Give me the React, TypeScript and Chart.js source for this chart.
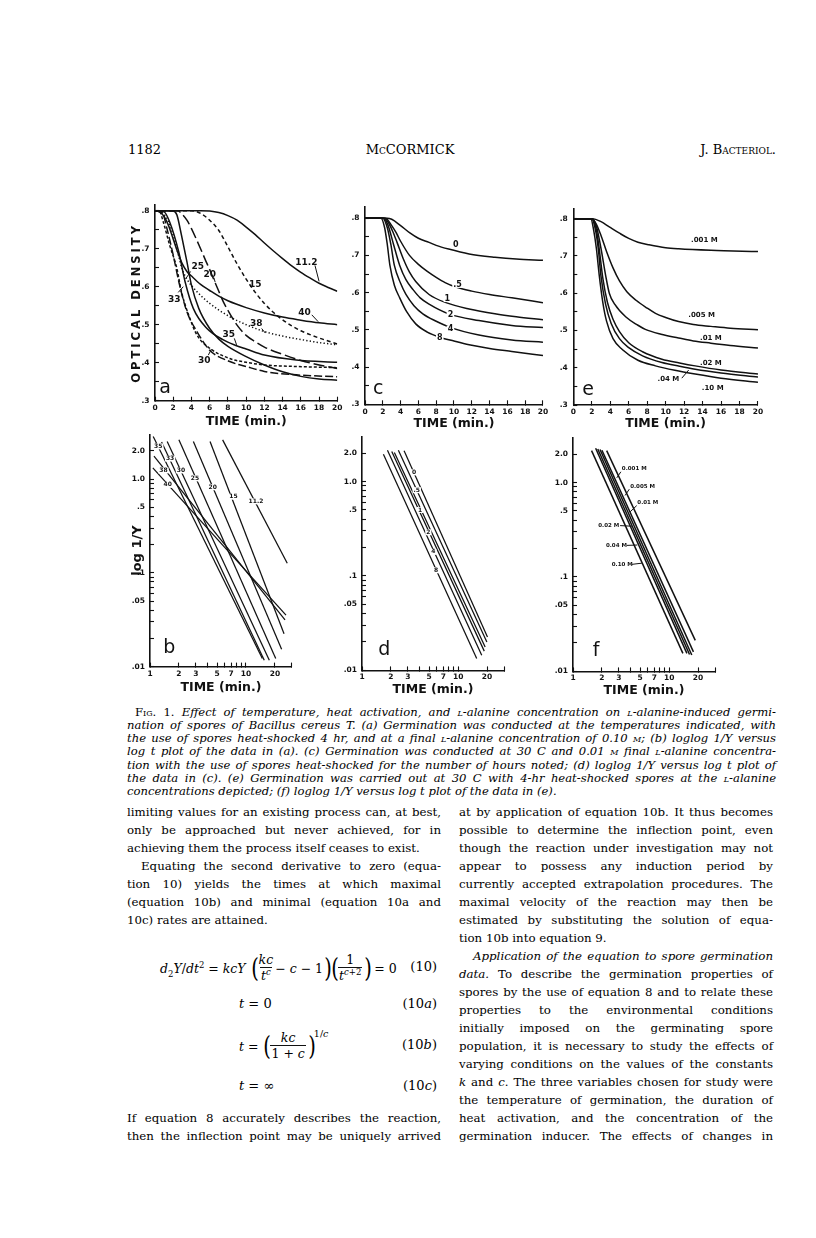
import React, { useEffect, useLayoutEffect, useRef } from 'react';
import { Chart, registerables } from 'chart.js';

Chart.register(...registerables);

type Pt = [number, number];

/* ---------------- (a) optical density vs time (min) at germination temperatures (C) ---------------- */
const temperatures = ['11.2', '15', '20', '25', '30', '33', '35', '38', '40'];
const odAt11_2: Pt[] = [[0, .8], [5, .8], [6, .799], [7, .795], [8, .787], [9, .775], [10, .757], [11, .737], [12, .715], [13, .694], [14, .674], [15, .655], [16, .638], [17, .623], [18, .609], [19, .598], [20, .588]];
const odAt15: Pt[] = [[0, .8], [4, .8], [5, .793], [6, .775], [7, .748], [8, .705], [9, .66], [10, .62], [11, .585], [12, .556], [13, .532], [14, .513], [15, .497], [16, .484], [17, .474], [18, .465], [19, .457], [20, .449]];
const odAt20: Pt[] = [[0, .8], [2.5, .8], [3, .79], [3.5, .775], [4, .753], [4.5, .727], [5, .7], [5.5, .672], [6, .645], [6.5, .616], [7, .588], [7.5, .56], [8, .538], [9, .499], [10, .472], [11, .455], [12, .441], [14, .422], [16, .406], [18, .394], [20, .385]];
const odAt25: Pt[] = [[0, .8], [2, .799], [2.4, .789], [2.9, .736], [3.5, .666], [4, .604], [4.8, .543], [6, .49], [7, .462], [8, .443], [10, .416], [12, .394], [14, .376], [16, .364], [18, .357], [20, .354]];
const odAt30: Pt[] = [[0, .8], [0.8, .795], [1.3, .754], [2, .683], [2.7, .604], [3.5, .534], [4.6, .482], [6, .433], [8.2, .403], [10, .39], [12, .377], [15.5, .368], [20, .363]];
const odAt33: Pt[] = [[0, .8], [0.5, .798], [0.9, .771], [1.6, .71], [2.4, .648], [2.9, .587], [3.7, .525], [4.6, .473], [6, .438], [8.2, .411], [10, .401], [12, .394], [15.5, .39], [20, .387]];
const odAt35: Pt[] = [[0, .8], [1, .797], [1.6, .771], [2.6, .692], [3.3, .613], [4.2, .543], [5.7, .49], [7.5, .46], [8.8, .446], [10, .436], [12, .42], [15.5, .407], [20, .401]];
const odAt38: Pt[] = [[0, .8], [1, .79], [1.5, .77], [2, .735], [2.5, .69], [3, .645], [3.5, .62], [4.6, .587], [6, .556], [8.2, .521], [10, .5], [12, .482], [14, .47], [16, .461], [18, .453], [20, .447]];
const odAt40: Pt[] = [[0, .8], [0.5, .797], [1, .785], [1.5, .76], [2, .725], [2.5, .69], [3, .66], [3.5, .64], [4, .628], [5, .606], [6, .59], [7, .575], [8, .563], [10, .545], [12, .531], [14, .52], [16, .512], [18, .505], [20, .5]];
const panelACurves: Pt[][] = [odAt11_2, odAt15, odAt20, odAt25, odAt30, odAt33, odAt35, odAt38, odAt40];

/* ---------------- (c) optical density vs time, hours of heat shock ---------------- */
const heatHours = ['0', '.5', '1', '2', '4', '8'];
const odHeat0: Pt[] = [[0, .8], [2.5, .8], [3, .797], [4, .78], [5, .761], [6, .746], [7.2, .735], [8, .727], [9.4, .717], [11.7, .704], [14.6, .695], [17, .69], [20, .687]];
const odHeat05: Pt[] = [[0, .8], [2.3, .8], [3, .78], [3.5, .761], [4, .738], [5, .7], [6, .676], [7, .657], [8, .641], [9, .627], [10.2, .615], [12, .604], [14, .595], [16.5, .586], [20, .573]];
const odHeat1: Pt[] = [[0, .8], [2.2, .8], [2.7, .785], [3.1, .765], [3.6, .735], [4.3, .691], [5, .655], [5.7, .63], [7.2, .595], [9.1, .573], [11.7, .556], [14.6, .543], [17, .535], [20, .527]];
const odHeat2: Pt[] = [[0, .8], [2.1, .8], [2.6, .78], [3.2, .73], [3.9, .673], [4.6, .635], [5.4, .608], [6.2, .586], [7.2, .569], [9.4, .543], [12.8, .525], [16.5, .512], [20, .506]];
const odHeat4: Pt[] = [[0, .8], [2, .8], [2.5, .775], [2.9, .73], [3.3, .673], [4, .625], [4.6, .595], [5.5, .565], [6.5, .543], [8, .523], [9.4, .508], [12.8, .486], [16.5, .473], [20, .467]];
const odHeat8: Pt[] = [[0, .8], [1.8, .8], [2.2, .775], [2.5, .73], [2.8, .673], [3.3, .62], [3.9, .586], [4.7, .548], [5.7, .516], [7, .494], [8.3, .481], [10, .47], [11.7, .46], [14, .45], [16.5, .442], [20, .431]];
const panelCCurves: Pt[][] = [odHeat0, odHeat05, odHeat1, odHeat2, odHeat4, odHeat8];

/* ---------------- (e) optical density vs time, L-alanine concentration ---------------- */
const concLabels = ['.001 M', '.005 M', '.01 M', '.02 M', '.04 M', '.10 M'];
const odConc001: Pt[] = [[0, .8], [2.1, .8], [3, .792], [3.9, .778], [5, .761], [6, .747], [7, .737], [8.2, .73], [10, .722], [11.4, .719], [14.9, .715], [20, .712]];
const odConc005: Pt[] = [[0, .8], [2, .8], [2.5, .785], [3, .755], [3.6, .712], [4.3, .668], [5, .633], [5.8, .604], [6.8, .581], [8, .56], [8.9, .546], [10, .535], [11.4, .524], [13, .516], [14.9, .511], [17, .506], [20, .502]];
const odConc01: Pt[] = [[0, .8], [2, .8], [2.5, .78], [3, .72], [3.5, .648], [3.9, .6], [4.5, .57], [5.7, .536], [7, .514], [7.8, .503], [9.5, .49], [11.4, .48], [13, .472], [14.9, .466], [17, .46], [20, .453]];
const odConc02: Pt[] = [[0, .8], [2, .8], [2.5, .77], [2.8, .72], [3.2, .64], [3.7, .575], [4.3, .53], [5, .497], [6, .467], [7.5, .443], [9.6, .423], [11.5, .413], [13.2, .405], [16, .394], [20, .383]];
const odConc04: Pt[] = [[0, .8], [2, .8], [2.4, .77], [2.7, .72], [3, .645], [3.5, .57], [4.1, .519], [5, .478], [6, .454], [7.5, .432], [9.6, .414], [11.5, .404], [13.2, .396], [16, .386], [20, .375]];
const odConc10: Pt[] = [[0, .8], [1.9, .8], [2.2, .77], [2.5, .72], [2.8, .65], [3.2, .575], [3.6, .525], [4.3, .478], [5.3, .449], [7, .42], [8.9, .405], [11, .393], [13.2, .383], [16, .372], [20, .361]];
const panelECurves: Pt[][] = [odConc001, odConc005, odConc01, odConc02, odConc04, odConc10];

/* ---------------- (b), (d), (f): loglog 1/Y vs log t, straight lines (end points) ---------------- */
const panelBLines: Pt[][] = [
  [[5.71, 2.63], [26.9, 0.127]],
  [[4.22, 2.53], [24.9, 0.0224]],
  [[2.83, 2.53], [23.5, 0.0153]],
  [[2.0, 2.63], [20.4, 0.0122]],
  [[1.51, 2.53], [17.5, 0.0117]],
  [[1.32, 2.49], [15.5, 0.0117]],
  [[1.08, 2.85], [14.8, 0.0122]],
  [[1.10, 1.76], [25.5, 0.0315]],
  [[1.07, 1.32], [26.1, 0.0355]],
];
const panelDLines: Pt[][] = [
  [[2.74, 2.12], [20.2, 0.0226]],
  [[2.39, 2.15], [19.9, 0.02]],
  [[2.17, 2.03], [19.1, 0.0177]],
  [[2.04, 2.08], [18.7, 0.016]],
  [[1.84, 2.15], [17.6, 0.0145]],
  [[1.67, 1.95], [15.6, 0.0134]],
];
const panelFLines: Pt[][] = [
  [[2.24, 2.18], [18.7, 0.0213]],
  [[2.0, 2.2], [17.9, 0.0161]],
  [[1.91, 2.24], [17.2, 0.0149]],
  [[1.81, 2.27], [16.3, 0.0151]],
  [[1.72, 2.31], [15.3, 0.0155]],
  [[1.56, 2.18], [13.9, 0.0155]],
];
const fLabelText = ['0.001 M', '0.005 M', '0.01 M', '0.02 M', '0.04 M', '0.10 M'];

/* ---------------- ticks ---------------- */
const logTimeTicks = [1, 2, 3, 4, 5, 6, 7, 8, 9, 10, 20, 30];
const logTimeLabels = [1, 2, 3, 5, 7, 10, 20];
const logYTicks = [0.01, 0.02, 0.03, 0.04, 0.05, 0.06, 0.07, 0.08, 0.09, 0.1, 0.2, 0.3, 0.4, 0.5, 0.6, 0.7, 0.8, 0.9, 1, 2];
const logYLabelValues = [2, 1, 0.5, 0.1, 0.05, 0.01];
const logYLabelText = ['2.0', '1.0', '.5', '.1', '.05', '.01'];

/* ---------------- label anchors (data units) ---------------- */
const aLabelPos: Pt[] = [[16.6, .664], [11.0, .606], [6.0, .633], [4.7, .652], [5.4, .405], [2.1, .566], [8.1, .475], [11.1, .503], [16.4, .532]];
const aLeaders = [[17.55, .656, 18.0, .614], [6.45, .624, 6.6, .612], [3.9, .64, 3.35, .62], [5.85, .42, 6.2, .436], [2.55, .585, 3.1, .6], [8.7, .464, 8.95, .447], [11.7, .49, 12.1, .478], [17.2, .526, 17.9, .508]];
const cLabelPos: Pt[] = [[10.2, .727], [10.4, .622], [9.26, .584], [9.6, .541], [9.6, .502], [8.4, .479]];
const eLabelPos: Pt[] = [[14.2, .743], [13.9, .541], [14.9, .479], [14.9, .413], [10.3, .37], [15.1, .344]];
const eLeaders = [[11.75, .372, 12.5, .394]];
const bLabelPos: Pt[] = [[12.7, .58], [7.4, .65], [4.5, .82], [2.94, 1.02], [2.1, 1.24], [1.62, 1.66], [1.22, 2.24], [1.38, 1.24], [1.53, 0.87]];
const dLabelPos: Pt[] = [[3.48, 1.25], [3.71, 0.81], [4.02, 0.5], [4.9, 0.29], [5.53, 0.18], [5.9, 0.115]];
const fLabelPos: Pt[] = [[3.22, 1.39], [3.93, 0.91], [4.67, 0.61], [1.83, 0.35], [2.2, 0.216], [2.53, 0.136]];
const fLeaders = [[3.15, 1.3, 2.85, 1.12], [3.85, 0.85, 3.48, 0.73], [4.6, 0.57, 3.93, 0.49], [3.09, 0.35, 4.09, 0.345], [3.62, 0.216, 4.67, 0.218], [4.09, 0.136, 5.2, 0.14]];

/* ---------------- styling ---------------- */
const INK = '#111111';
const SANS = '"DejaVu Sans", sans-serif';
const SERIF = '"DejaVu Serif", serif';
const tickFont = { family: SANS, size: 7.5, weight: 'bold' };
const titleFont = { family: SANS, size: 12.5, weight: 'bold' };
const aDashes = [[], [4, 3], [11, 4], [], [8, 3], [3, 2], [], [1.3, 2.2], []];

const annotPlugin = {
  id: 'annot',
  afterDatasetsDraw(chart: any, _a: any, opts: any) {
    const { ctx, scales, chartArea } = chart;
    const xs = scales.x, ys = scales.y;
    ctx.save();
    ctx.strokeStyle = INK;
    ctx.fillStyle = INK;
    ctx.lineWidth = 1;
    for (const l of opts.leaders || []) {
      ctx.beginPath();
      ctx.moveTo(xs.getPixelForValue(l[0]), ys.getPixelForValue(l[1]));
      ctx.lineTo(xs.getPixelForValue(l[2]), ys.getPixelForValue(l[3]));
      ctx.stroke();
    }
    for (const t of opts.texts || []) {
      const px = xs.getPixelForValue(t.x), py = ys.getPixelForValue(t.y);
      ctx.font = opts.font;
      ctx.textAlign = opts.align || 'center';
      ctx.textBaseline = 'middle';
      if (opts.bg) {
        const w = ctx.measureText(t.text).width;
        const h = opts.bgH || 7;
        const left = ctx.textAlign === 'left' ? px : px - w / 2;
        ctx.fillStyle = '#fff';
        ctx.fillRect(left - 1, py - h / 2, w + 2, h);
        ctx.fillStyle = INK;
      }
      ctx.fillText(t.text, px, py);
    }
    if (opts.letter) {
      ctx.font = `19px ${SANS}`;
      ctx.textAlign = 'center';
      ctx.textBaseline = 'middle';
      ctx.fillText(opts.letter.text, xs.getPixelForValue(opts.letter.x), ys.getPixelForValue(opts.letter.y));
    }
    if (opts.vtitle) {
      ctx.save();
      ctx.translate(opts.vtitle.px, (chartArea.top + chartArea.bottom) / 2);
      ctx.rotate(-Math.PI / 2);
      ctx.font = `bold 11.5px ${SANS}`;
      (ctx as any).letterSpacing = '3px';
      ctx.textAlign = 'center';
      ctx.textBaseline = 'middle';
      ctx.fillText(opts.vtitle.text, 0, 0);
      ctx.restore();
    }
    ctx.restore();
  },
};

const axisLook = () => ({
  border: { display: true, color: INK, width: 1.6 },
  grid: { display: true, drawOnChartArea: false, drawTicks: true, tickLength: -4, tickColor: INK, tickWidth: 1.1 },
});

type Geom = { yW: number; xH: number; padTop: number; padRight: number; xPad: number; titlePad: number; ymax: number; yTitlePad?: number };

const odLabel = (v: number) => {
  const k = Math.round(v * 100);
  return k % 10 === 0 ? '.' + k / 10 : '';
};

function odConfig(curves: Pt[][], dashes: number[][], g: Geom, annot: any) {
  return {
    type: 'line',
    data: {
      datasets: curves.map((c, i) => ({
        data: c.map(([x, y]) => ({ x, y })),
        borderColor: INK, borderWidth: 1.5, borderDash: dashes[i] || [], pointRadius: 0, fill: false,
        cubicInterpolationMode: 'monotone',
      })),
    },
    options: {
      animation: false, responsive: false, events: [],
      layout: { padding: { top: g.padTop, right: g.padRight, left: 0, bottom: 0 } },
      plugins: { legend: { display: false }, tooltip: { enabled: false }, annot },
      scales: {
        x: {
          type: 'linear', min: 0, max: 20,
          afterFit: (s: any) => { s.height = g.xH; },
          ticks: { stepSize: 2, autoSkip: false, maxRotation: 0, font: tickFont, color: INK, padding: g.xPad, callback: (v: number) => String(v) },
          ...axisLook(),
          title: { display: true, text: 'TIME (min.)', font: titleFont, color: INK, padding: { top: 0, bottom: g.titlePad } },
        },
        y: {
          type: 'linear', min: 0.3, max: g.ymax,
          afterFit: (s: any) => { s.width = g.yW; },
          ticks: { stepSize: 0.05, includeBounds: false, autoSkip: false, font: tickFont, color: INK, padding: 9.5, callback: odLabel },
          ...axisLook(),
        },
      },
    },
    plugins: [annotPlugin],
  };
}

function logConfig(lines: Pt[][], g: Geom, annot: any, yTitle: string | null, lw: number) {
  return {
    type: 'line',
    data: {
      datasets: lines.map((c) => ({
        data: c.map(([x, y]) => ({ x, y })),
        borderColor: INK, borderWidth: lw, pointRadius: 0, fill: false,
      })),
    },
    options: {
      animation: false, responsive: false, events: [],
      layout: { padding: { top: g.padTop, right: g.padRight, left: 0, bottom: 0 } },
      plugins: { legend: { display: false }, tooltip: { enabled: false }, annot },
      scales: {
        x: {
          type: 'logarithmic', min: 1, max: 30,
          afterFit: (s: any) => { s.height = g.xH; },
          afterBuildTicks: (s: any) => { s.ticks = logTimeTicks.map((v) => ({ value: v })); },
          ticks: {
            autoSkip: false, maxRotation: 0, font: tickFont, color: INK, padding: g.xPad,
            callback: (v: number) => (logTimeLabels.some((l) => Math.abs(l - v) < 1e-6) ? String(v) : ''),
          },
          ...axisLook(),
          title: { display: true, text: 'TIME (min.)', font: titleFont, color: INK, padding: { top: 0, bottom: g.titlePad } },
        },
        y: {
          type: 'logarithmic', min: 0.01, max: g.ymax,
          afterFit: (s: any) => { s.width = g.yW; },
          afterBuildTicks: (s: any) => { s.ticks = logYTicks.map((v) => ({ value: v })); },
          ticks: {
            autoSkip: false, font: tickFont, color: INK, padding: 9,
            callback: (v: number) => {
              const i = logYLabelValues.findIndex((l) => Math.abs(l - v) / l < 1e-6);
              return i >= 0 ? logYLabelText[i] : '';
            },
          },
          ...axisLook(),
          title: yTitle
            ? { display: true, text: yTitle, font: { family: SANS, size: 13, weight: 'bold' }, color: INK, padding: { top: g.yTitlePad || 0, bottom: 0 } }
            : { display: false },
        },
      },
    },
    plugins: [annotPlugin],
  };
}

function ChartPanel({ make, left, top, width, height }: any) {
  const ref = useRef<HTMLCanvasElement>(null);
  useEffect(() => {
    const chart = new Chart(ref.current as HTMLCanvasElement, make());
    return () => chart.destroy();
  }, []);
  return <canvas ref={ref} width={width} height={height} style={{ position: 'absolute', left, top, width, height }} />;
}

const geomA: Geom = { yW: 37, xH: 34.3, padTop: 15, padRight: 12.7, xPad: 6.5, titlePad: 6.0, ymax: 0.815 };
const geomC: Geom = { yW: 30, xH: 30.7, padTop: 8.7, padRight: 10, xPad: 6.8, titlePad: 3.6, ymax: 0.83 };
const geomE: Geom = { yW: 28.3, xH: 32, padTop: 10, padRight: 9, xPad: 6.8, titlePad: 5.6, ymax: 0.826 };
const geomB: Geom = { yW: 32, xH: 34.4, padTop: 10.3, padRight: 11.2, xPad: 7.1, titlePad: 5.5, ymax: 3, yTitlePad: 12.2 };
const geomD: Geom = { yW: 32, xH: 32.6, padTop: 10.9, padRight: 11, xPad: 5.8, titlePad: 5.5, ymax: 3 };
const geomF: Geom = { yW: 33, xH: 32.6, padTop: 10.9, padRight: 15, xPad: 5.8, titlePad: 5.5, ymax: 3 };

const mkTexts = (names: string[], pos: Pt[]) => names.map((t, i) => ({ text: t, x: pos[i][0], y: pos[i][1] }));

/* ---------------- text helpers ---------------- */
function TextLine({ x, cy, w, size, lh, justify = true, indent = 0, italic = false, children }: any) {
  const ref = useRef<HTMLSpanElement>(null);
  useLayoutEffect(() => {
    const el = ref.current;
    if (!el) return;
    let alive = true;
    const fit = () => {
      if (!alive) return;
      el.style.wordSpacing = '0px';
      el.style.transform = 'none';
      const natural = el.getBoundingClientRect().width;
      const target = w - indent;
      const spaces = (el.textContent || '').split(' ').length - 1;
      if (natural > target) el.style.transform = `scaleX(${target / natural})`;
      else if (justify && spaces > 0) el.style.wordSpacing = `${(target - natural) / spaces}px`;
    };
    fit();
    const f = (document as any).fonts;
    if (f && f.ready) f.ready.then(fit);
    return () => { alive = false; };
  }, []);
  return (
    <div style={{ position: 'absolute', left: x, top: cy - lh / 2, width: w, height: lh, lineHeight: lh + 'px', whiteSpace: 'nowrap', fontSize: size, fontStyle: italic ? 'italic' : 'normal', paddingLeft: indent, boxSizing: 'border-box' }}>
      <span ref={ref} style={{ display: 'inline-block', transformOrigin: 'left center' }}>{children}</span>
    </div>
  );
}

const SC = ({ children }: any) => <span style={{ fontVariant: 'small-caps' }}>{children}</span>;
const supS: any = { fontSize: '0.68em', verticalAlign: 'super', lineHeight: 0 };
const subS: any = { fontSize: '0.68em', verticalAlign: 'sub', lineHeight: 0 };
const Frac = ({ n, d }: any) => (
  <span style={{ display: 'inline-flex', flexDirection: 'column', alignItems: 'center', margin: '0 1px' }}>
    <span style={{ padding: '0 1px', lineHeight: '14px' }}>{n}</span>
    <span style={{ borderTop: '1px solid #111', padding: '1px 1px 0', lineHeight: '14px' }}>{d}</span>
  </span>
);
const Paren = ({ c }: any) => (
  <span style={{ fontSize: 26, lineHeight: '30px', fontStyle: 'normal', display: 'inline-block', width: 7, textAlign: 'center', fontWeight: 300 }}>
    <span style={{ display: 'inline-block', transform: 'scaleX(0.75)' }}>{c}</span>
  </span>
);

const captionLines: any[] = [
  <><span style={{ fontStyle: 'normal' }}>F<SC>ig</SC>. 1.</span> Effect of temperature, heat activation, and <SC>l</SC>-alanine concentration on <SC>l</SC>-alanine-induced germi-</>,
  <>nation of spores of Bacillus cereus T. (a) Germination was conducted at the temperatures indicated, with</>,
  <>the use of spores heat-shocked 4 hr, and at a final <SC>l</SC>-alanine concentration of 0.10 <SC>m</SC>; (b) loglog 1/Y versus</>,
  <>log t plot of the data in (a). (c) Germination was conducted at 30 C and 0.01 <SC>m</SC> final <SC>l</SC>-alanine concentra-</>,
  <>tion with the use of spores heat-shocked for the number of hours noted; (d) loglog 1/Y versus log t plot of</>,
  <>the data in (c). (e) Germination was carried out at 30 C with 4-hr heat-shocked spores at the <SC>l</SC>-alanine</>,
  <>concentrations depicted; (f) loglog 1/Y versus log t plot of the data in (e).</>,
];

const leftColTop: any[] = [
  { c: 'limiting values for an existing process can, at best,' },
  { c: 'only be approached but never achieved, for in' },
  { c: 'achieving them the process itself ceases to exist.', end: true },
  { c: 'Equating the second derivative to zero (equa-', indent: 14 },
  { c: 'tion 10) yields the times at which maximal' },
  { c: '(equation 10b) and minimal (equation 10a and' },
  { c: '10c) rates are attained.', end: true },
];
const leftColBottom: any[] = [
  { c: 'If equation 8 accurately describes the reaction,' },
  { c: 'then the inflection point may be uniquely arrived' },
];
const rightCol: any[] = [
  { c: 'at by application of equation 10b. It thus becomes' },
  { c: 'possible to determine the inflection point, even' },
  { c: 'though the reaction under investigation may not' },
  { c: 'appear to possess any induction period by' },
  { c: 'currently accepted extrapolation procedures. The' },
  { c: 'maximal velocity of the reaction may then be' },
  { c: 'estimated by substituting the solution of equa-' },
  { c: 'tion 10b into equation 9.', end: true },
  { c: <i>Application of the equation to spore germination</i>, indent: 14 },
  { c: <><i>data.</i> To describe the germination properties of</> },
  { c: 'spores by the use of equation 8 and to relate these' },
  { c: 'properties to the environmental conditions' },
  { c: 'initially imposed on the germinating spore' },
  { c: 'population, it is necessary to study the effects of' },
  { c: 'varying conditions on the values of the constants' },
  { c: <><i>k</i> and <i>c</i>. The three variables chosen for study were</> },
  { c: 'the temperature of germination, the duration of' },
  { c: 'heat activation, and the concentration of the' },
  { c: 'germination inducer. The effects of changes in' },
];

const COL_L = 127, COL_R = 459, COL_W = 314;
const BODY_Y0 = 812, BODY_DY = 18.05;
const CAP_Y0 = 712, CAP_DY = 13.3;

export default function App() {
  const bodyProps = { size: 11.8, lh: 15 };
  return (
    <div style={{ position: 'absolute', left: 0, top: 0, width: 816, height: 1238, background: '#fff', color: '#000', fontFamily: SERIF, overflow: 'hidden' }}>
      {/* running head */}
      <div style={{ position: 'absolute', left: 128, top: 142, fontSize: 13 }}>1182</div>
      <div style={{ position: 'absolute', left: 360, width: 100, textAlign: 'center', top: 142, fontSize: 13 }}>M<SC>c</SC>CORMICK</div>
      <div style={{ position: 'absolute', right: 816 - 776, top: 142, fontSize: 13 }}>J. B<SC>acteriol.</SC></div>

      {/* figure panels */}
      <ChartPanel left={118} top={190} width={232} height={245} make={() => odConfig(panelACurves, aDashes, geomA, {
        font: `bold 9px ${SANS}`, texts: mkTexts(temperatures, aLabelPos), leaders: aLeaders,
        letter: { text: 'a', x: 1.1, y: 0.333 }, vtitle: { text: 'OPTICAL DENSITY', px: 19 },
      })} />
      <ChartPanel left={335} top={193} width={220} height={242} make={() => odConfig(panelCCurves, [], geomC, {
        font: `bold 8px ${SANS}`, texts: mkTexts(heatHours, cLabelPos), bg: true, bgH: 7,
        letter: { text: 'c', x: 1.48, y: 0.342 },
      })} />
      <ChartPanel left={545} top={195} width={225} height={242} make={() => odConfig(panelECurves, [], geomE, {
        font: `bold 7px ${SANS}`, texts: mkTexts(concLabels, eLabelPos), leaders: eLeaders,
        letter: { text: 'e', x: 1.6, y: 0.339 },
      })} />
      <ChartPanel left={118} top={421} width={185} height={280} make={() => logConfig(panelBLines, geomB, {
        font: `bold 6px ${SANS}`, texts: mkTexts(temperatures, bLabelPos), bg: true, bgH: 6,
        letter: { text: 'b', x: 1.59, y: 0.0159 },
      }, 'log 1/Y', 1.25)} />
      <ChartPanel left={330} top={423} width={185} height={280} make={() => logConfig(panelDLines, geomD, {
        font: `bold 6px ${SANS}`, texts: mkTexts(heatHours, dLabelPos), bg: true, bgH: 6,
        letter: { text: 'd', x: 1.71, y: 0.0164 },
      }, null, 1.25)} />
      <ChartPanel left={540} top={424} width={190} height={280} make={() => logConfig(panelFLines, geomF, {
        font: `bold 5.5px ${SANS}`, texts: mkTexts(fLabelText, fLabelPos), leaders: fLeaders, align: 'left',
        letter: { text: 'f', x: 1.74, y: 0.0164 },
      }, null, 1.5)} />

      {/* caption */}
      {captionLines.map((c, i) => (
        <TextLine key={'cap' + i} x={COL_L} cy={CAP_Y0 + i * CAP_DY} w={776 - COL_L} size={11.6} lh={13} italic indent={i === 0 ? 8 : 0} justify={i !== captionLines.length - 1}>{c}</TextLine>
      ))}

      {/* left column */}
      {leftColTop.map((l, i) => (
        <TextLine key={'l' + i} x={COL_L} cy={BODY_Y0 + i * BODY_DY} w={COL_W} {...bodyProps} indent={l.indent || 0} justify={!l.end}>{l.c}</TextLine>
      ))}
      {leftColBottom.map((l, i) => (
        <TextLine key={'lb' + i} x={COL_L} cy={BODY_Y0 + (17 + i) * BODY_DY} w={COL_W} {...bodyProps} justify>{l.c}</TextLine>
      ))}

      {/* equations */}
      <div style={{ position: 'absolute', left: 160, top: 968 - 20, height: 40, display: 'flex', alignItems: 'center', whiteSpace: 'nowrap', fontSize: 12.5 }}>
        <span><i>d</i><sub style={subS}>2</sub><i>Y</i>/<i>dt</i><sup style={supS}>2</sup> = <i>kcY</i>&nbsp;</span>
        <Paren c="(" />
        <Frac n={<i>kc</i>} d={<span><i>t</i><sup style={supS}><i>c</i></sup></span>} />
        <span>− <i>c</i> − 1</span>
        <Paren c=")" /><Paren c="(" />
        <Frac n="1" d={<span><i>t</i><sup style={supS}><i>c</i>+2</sup></span>} />
        <Paren c=")" />
        <span>&nbsp;= 0</span>
      </div>
      <div style={{ position: 'absolute', right: 816 - 437, top: 968 - 9, fontSize: 13 }}>(10)</div>

      <div style={{ position: 'absolute', left: 239, top: 1005 - 9, fontSize: 13 }}><i>t</i> = 0</div>
      <div style={{ position: 'absolute', right: 816 - 437, top: 1005 - 9, fontSize: 13 }}>(10<i>a</i>)</div>

      <div style={{ position: 'absolute', left: 239, top: 1046 - 22, height: 44, display: 'flex', alignItems: 'center', whiteSpace: 'nowrap', fontSize: 12.5 }}>
        <span><i>t</i> =&nbsp;</span>
        <Paren c="(" />
        <Frac n={<i>kc</i>} d={<span>1 + <i>c</i></span>} />
        <Paren c=")" />
        <span style={{ alignSelf: 'flex-start', fontSize: 9.5, marginTop: 4 }}>1/<i>c</i></span>
      </div>
      <div style={{ position: 'absolute', right: 816 - 437, top: 1046 - 9, fontSize: 13 }}>(10<i>b</i>)</div>

      <div style={{ position: 'absolute', left: 239, top: 1087 - 9, fontSize: 13 }}><i>t</i> = ∞</div>
      <div style={{ position: 'absolute', right: 816 - 437, top: 1087 - 9, fontSize: 13 }}>(10<i>c</i>)</div>

      {/* right column */}
      {rightCol.map((l, i) => (
        <TextLine key={'r' + i} x={COL_R} cy={BODY_Y0 + i * BODY_DY} w={COL_W} {...bodyProps} indent={l.indent || 0} justify={!l.end}>{l.c}</TextLine>
      ))}
    </div>
  );
}
